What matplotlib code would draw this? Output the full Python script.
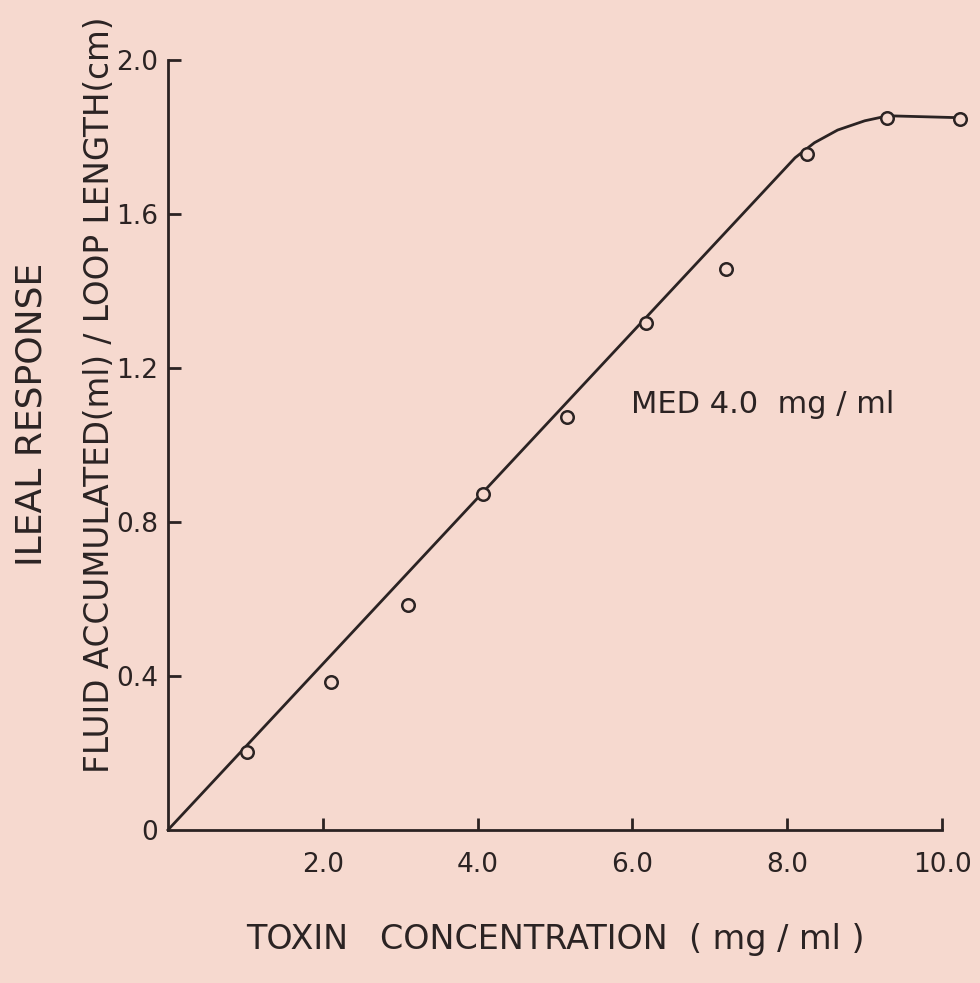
import matplotlib
matplotlib.use("Agg")
import matplotlib.pyplot as plt

# data
toxin = [1.02, 2.11, 3.10, 4.07, 5.16, 6.18, 7.21, 8.26, 9.29, 10.23]
response = [0.203, 0.384, 0.584, 0.873, 1.073, 1.317, 1.457, 1.756, 1.849, 1.847]

# hand drawn fitted curve
curve_x = [0.0, 8.10, 8.35, 8.65, 9.00, 9.30, 10.23]
curve_y = [0.0, 1.746, 1.785, 1.818, 1.842, 1.855, 1.850]

x_ticks = [2.0, 4.0, 6.0, 8.0, 10.0]
x_labels = ["2.0", "4.0", "6.0", "8.0", "10.0"]
y_ticks = [0.0, 0.4, 0.8, 1.2, 1.6, 2.0]
y_labels = ["0", "0.4", "0.8", "1.2", "1.6", "2.0"]

bg = "#f6d9cf"
ink = "#2b2323"

plt.rcParams["font.family"] = ["DejaVu Sans"]

fig = plt.figure(figsize=(9.8, 9.83), dpi=100)
fig.patch.set_facecolor(bg)
ax = fig.add_axes([0.1714, 0.1557, 0.790, 0.7833])
ax.set_facecolor(bg)

ax.plot(curve_x, curve_y, color=ink, lw=2.0, clip_on=False, zorder=2)
ax.plot(toxin, response, "o", ms=9, mfc=bg, mec=ink, mew=1.8,
        clip_on=False, zorder=3)

ax.set_xlim(0, 10)
ax.set_ylim(0, 2.0)

for s in ["top", "right"]:
    ax.spines[s].set_visible(False)
for s in ["left", "bottom"]:
    ax.spines[s].set_color(ink)
    ax.spines[s].set_linewidth(2.0)

ax.set_xticks(x_ticks)
ax.set_xticklabels(x_labels)
ax.set_yticks(y_ticks)
ax.set_yticklabels(y_labels)
ax.tick_params(axis="x", direction="in", length=9, width=2.0, colors=ink,
               labelsize=19, pad=16)
ax.tick_params(axis="y", direction="in", length=9, width=2.0, colors=ink,
               labelsize=19, pad=7)
# no tick at origin on the y axis
ax.yaxis.get_major_ticks()[0].tick1line.set_visible(False)

fig.text(0.567, 0.044, "TOXIN   CONCENTRATION  ( mg / ml )", ha="center",
         va="center", fontsize=24, color=ink)
fig.text(0.032, 0.578, "ILEAL RESPONSE", rotation=90, ha="center",
         va="center", fontsize=26, color=ink)
fig.text(0.102, 0.598, "FLUID ACCUMULATED(ml) / LOOP LENGTH(cm)",
         rotation=90, ha="center", va="center", fontsize=23.5, color=ink)
ax.text(5.98, 1.105, "MED 4.0  mg / ml", fontsize=22, color=ink,
        ha="left", va="center")

fig.savefig("out.png", dpi=100, facecolor=bg)
